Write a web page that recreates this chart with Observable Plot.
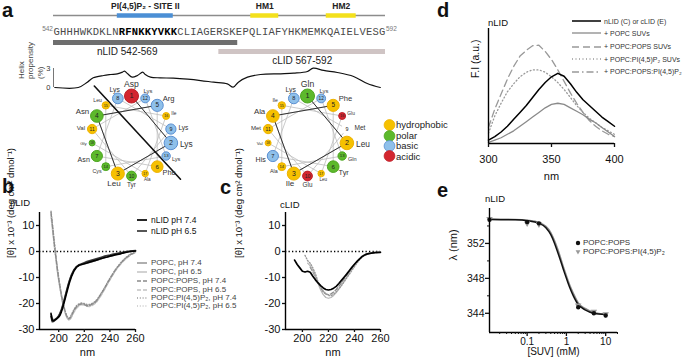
<!DOCTYPE html>
<html>
<head>
<meta charset="utf-8">
<script src="https://cdn.jsdelivr.net/npm/d3@7"></script>
<script src="https://cdn.jsdelivr.net/npm/@observablehq/plot@0.6"></script>
<style>
html,body{margin:0;padding:0;background:#fff;}
#fig{position:relative;width:683px;height:363px;overflow:hidden;background:#fff;font-family:"Liberation Sans",Arial,sans-serif;color:#111;}
#fig > *{position:absolute;}
.lbl{white-space:nowrap;line-height:1;}
.row{display:flex;align-items:center;white-space:nowrap;line-height:1;}
.row svg{overflow:visible;flex:none;display:block;}
</style>
</head>
<body>
<div id="fig"></div>
<script>
// ================= DATA =================
// panel a : sequence track
const seqStart = 542;
const sequence = "GHHHWKDKLNRFNKKYVKKCLIAGERSKEPQLIAFYHKMEMKQAIELVESG";
const siteIIResidues = [552, 560];
const domainNames = ["PI(4,5)P₂ - SITE II", "HM1", "HM2"];
const domainStart = [551.8, 572.3, 583.9];
const domainEnd = [560.4, 576.6, 588.5];
const constructNames = ["nLID 542-569", "cLID 567-592"];
const constructStart = [542, 567.4];
const constructEnd = [570.3, 593];
// panel a : helix propensity
const propensityResidue = [542.2,545.8,547.2,548.1,549.7,550.8,551.8,552.6,552.9,553.4,554.1,554.9,555.7,556.1,556.9,558.4,560.4,562.6,564.6,566.6,568.7,569.6,570.4,571.8,573.8,576.9,578.9,581.0,581.9,583.5,585.6,588.1,590.2,592.2];
const propensityValue = [0,0,0.84,1.53,1.9,2.05,2.16,2.42,2.58,2.16,1.63,1.9,2.42,2.05,1.63,1.53,1.47,1.31,1.1,0.84,0.58,0.05,0.84,1.63,2.05,2.16,2.26,2.53,3.05,2.69,2.37,1.74,0.63,0];
const propensityTicks = [0, 3];
const propensityLabel = "Helix\npropensity\n(%)";
// panel a : helical wheels
const wheelTypes = ["hydrophobic", "polar", "basic", "acidic"];
const nWheelNames = ["Asp","Lys","Leu","Asn","Arg","Phe","Asn","Lys","Lys","Tyr","Val","Lys","Lys","Cys","Leu","Ile","Ala","Gly"];
const nWheelTypes = ["acidic","basic","hydrophobic","polar","basic","hydrophobic","polar","basic","basic","polar","hydrophobic","basic","basic","polar","hydrophobic","hydrophobic","hydrophobic","polar"];
const cWheelNames = ["Gln","Leu","Ile","Ala","Phe","Tyr","His","Lys","Met","Glu","Met","Lys","Gln","Ala","Ile","Glu","Leu","Val"];
const cWheelTypes = ["polar","hydrophobic","hydrophobic","hydrophobic","hydrophobic","polar","basic","basic","none","acidic","hydrophobic","basic","polar","hydrophobic","hydrophobic","acidic","hydrophobic","hydrophobic"];
const nWheelDivider = [[-0.93, -1.25], [1.225, 1.08]]; // in wheel radii

// panel b : CD nLID
const bSeriesNames = ["nLID pH 7.4","nLID pH 6.5","POPC, pH 7.4","POPC, pH 6.5","POPC:POPS, pH 7.4","POPC:POPS, pH 6.5","POPC:PI(4,5)P₂, pH 7.4","POPC:PI(4,5)P₂, pH 6.5"];
const bWavelength = [194,195,196,197,198,199,200,201,202,203,204,205,206,207,208,209,210,212,214,216,218,220,222,224,226,228,230,232,234,236,238,240,242,244,246,248,250,253,256,260];
const bNLID74 = [-24,-26.5,-26.6,-26.3,-26,-25.6,-25.2,-24.5,-23.3,-21.8,-20,-18.2,-16.3,-14.4,-12.6,-11,-9.6,-7.4,-6,-5.3,-5,-4.7,-4.4,-4.1,-3.8,-3.5,-3.2,-2.9,-2.6,-2.3,-2.1,-1.8,-1.6,-1.3,-1.1,-0.9,-0.6,-0.3,0,0.2];
const bNLID65 = [-25,-27,-26.9,-26.5,-26.1,-25.5,-24.8,-23.8,-22.5,-21,-19.2,-17.3,-15.4,-13.5,-11.8,-10.3,-9,-7,-5.8,-5.1,-4.7,-4.3,-3.9,-3.6,-3.3,-3,-2.7,-2.4,-2.1,-1.8,-1.6,-1.4,-1.1,-0.9,-0.7,-0.5,-0.3,0,0.2,0.3];
const bPOPC74 = [-23.5,-25.8,-26.2,-26,-25.7,-25.2,-24.6,-23.7,-22.4,-20.9,-19.1,-17.2,-15.3,-13.4,-11.7,-10.2,-8.9,-6.9,-5.7,-5.1,-4.9,-4.7,-4.5,-4.2,-3.9,-3.6,-3.3,-3,-2.7,-2.4,-2.1,-1.8,-1.5,-1.2,-1,-0.8,-0.5,-0.2,0.1,0.3];
const bPOPC65 = [-24.5,-26,-26.4,-26.2,-25.9,-25.4,-24.9,-24.1,-22.9,-21.4,-19.7,-17.8,-15.9,-14,-12.2,-10.6,-9.3,-7.2,-5.9,-5.4,-5.1,-4.9,-4.6,-4.3,-4,-3.7,-3.4,-3.1,-2.8,-2.5,-2.2,-1.9,-1.6,-1.3,-1.1,-0.9,-0.6,-0.3,0,0.1];
const bPOPS74 = [15,10.5,5.5,1,-3,-7,-10.5,-13.5,-16.5,-19,-21.2,-23,-24.6,-25.6,-26,-25.6,-24.7,-22.6,-21.2,-20.4,-20.1,-20.4,-20.9,-20.8,-20.3,-19.8,-18.7,-17.2,-15.6,-14,-12.2,-10.5,-8.9,-7.3,-6,-4.8,-3.7,-2.3,-1.2,-0.3];
const bPOPS65 = [14,9.5,4.5,0,-4,-8,-11.5,-14.5,-17.3,-19.8,-21.9,-23.6,-25,-25.9,-26.2,-25.9,-25.2,-23.3,-21.8,-20.8,-20.4,-20.6,-21.1,-21.2,-20.8,-20.2,-19.2,-17.8,-16.2,-14.5,-12.7,-11,-9.3,-7.7,-6.3,-5.1,-4,-2.6,-1.4,-0.4];
const bPIP74 = [15.5,11,6.5,2,-2.5,-6.5,-10,-13.2,-16.2,-18.8,-21,-22.9,-24.4,-25.3,-25.6,-25.2,-24.2,-22.2,-20.8,-20.1,-19.8,-20,-20.4,-20.4,-20,-19.4,-18.4,-17,-15.4,-13.8,-12,-10.3,-8.7,-7.2,-5.8,-4.6,-3.5,-2.1,-1,-0.1];
const bPIP65 = [13,9,4.8,0.5,-3.5,-7.5,-11,-14,-16.8,-19.4,-21.6,-23.4,-24.9,-25.9,-26.4,-26.1,-25.3,-23,-21.5,-20.6,-20.3,-20.5,-20.9,-21,-20.6,-20,-19,-17.6,-16,-14.3,-12.5,-10.8,-9.1,-7.6,-6.2,-5,-3.9,-2.5,-1.3,-0.3];
const cdTicksX = [200, 220, 240, 260];
const cdTicksY = [-30, -20, -10, 0, 10];
const cdYLabel = "[θ] x 10⁻³ (deg cm² dmol⁻¹)";

// panel c : CD cLID
const cSeriesNames = ["cLID pH 7.4", "POPC:PI(4,5)P₂, pH 7.4", "POPC, pH 6.5", "POPC:POPS, pH 7.4"];
const cWavelength = [194,196,198,200,202,204,206,208,210,212,214,216,218,220,222,224,226,228,230,232,234,236,238,240,242,244,246,248,250,253,256,260];
const cLIDsol = [-3.3,-5,-6.3,-7.6,-7.9,-7.6,-8,-9.5,-10.9,-12.1,-13.1,-14,-14.6,-14.8,-14.6,-14.1,-13.4,-12.3,-11.1,-9.9,-8.7,-7.4,-6.1,-4.9,-3.8,-2.8,-1.9,-1.3,-0.9,-0.6,-0.4,-0.3];
const cLIDmem1 = [null,null,null,null,-1.5,-3.5,-4.5,-6.3,-8.6,-11.6,-13.8,-15.2,-16.2,-16.9,-17,-16.4,-15.4,-14.3,-13.1,-11.7,-10.2,-8.8,-7.3,-5.8,-4.4,-3.1,-2.1,-1.4,-1,-0.6,-0.4,-0.3];
const cLIDmem2 = [null,null,null,null,null,-4.5,-5.5,-7.2,-9.5,-12.3,-14.8,-16.6,-17.7,-18,-17.7,-16.9,-15.8,-14.5,-13,-11.4,-9.8,-8.2,-6.6,-5.1,-3.8,-2.7,-1.8,-1.2,-0.8,-0.5,-0.3,-0.2];
const cLIDmem3 = [null,null,null,null,null,null,-6,-7.8,-9.8,-12,-14,-15.5,-16.4,-16.6,-16.3,-15.6,-14.6,-13.4,-12,-10.6,-9.2,-7.8,-6.4,-5,-3.8,-2.7,-1.8,-1.2,-0.8,-0.5,-0.3,-0.2];

// panel d : fluorescence
const dSeriesNames = ["nLID (C) or cLID (E)", "+ POPC SUVs", "+ POPC:POPS SUVs", "+ POPC:PI(4,5)P₂ SUVs", "+ POPC:POPS:PI(4,5)P₂"];
const dWavelength = [300,305,310,315,320,325,330,335,340,345,350,355,360,365,370,375,380,385,390,395,400];
const dFree = [3,6,10,15,21,27,33,40,47,53,58,61,58.5,52,44.5,38,33,28,23,19,15];
const dPOPC = [1,3,5,8,11,15,19,23,27,31,34,35,34,31,28,25,21,18,14,10,6];
const dPOPS = [14,30,43,56,67,76,81,85,85.5,80,73,64,54,44,35,27,20,15,11,8,6];
const dPIP2 = [9,24,35,45,52,58,62,64,64,62,58,53,47,40,33,27,22,18,14,11,8];
const dTicksX = [300, 350, 400];

// panel e : titration
const eSeriesNames = ["POPC:POPS", "POPC:POPS:PI(4,5)P₂"];
const eConc = [0.011, 0.1, 0.2, 2, 5, 10];
const eLambdaPOPS = [354.7, 354.45, 354.3, 344.7, 344.0, 343.75];
const eLambdaPIP2 = [354.8, 354.3, 354.2, 344.9, 344.2, 343.9];
const eFitConc = [0.011,0.05,0.1,0.2,0.3,0.4,0.5,0.6,0.7,0.8,0.9,1.0,1.2,1.5,2,3,5,10];
const eFitPOPS = [354.75,354.7,354.6,354.3,353.8,353.0,352.0,351.0,350.1,349.3,348.6,348.0,347.0,346.0,345.0,344.4,344.0,343.85];
const eFitPIP2 = [354.8,354.75,354.65,354.4,353.95,353.25,352.3,351.35,350.45,349.6,348.9,348.3,347.3,346.3,345.2,344.55,344.1,343.9];
const eTicksX = [0.1, 1, 10];
const eTicksY = [344, 348, 352];
const eMinorY = [346, 350, 354];

// ================= HELPERS =================
const fig = document.getElementById("fig");
const FONT = "'Liberation Sans', Arial, sans-serif";
const plotStyle = {background: "transparent", overflow: "visible", fontFamily: FONT, color: "#111"};
function put(node, left, top) {
  node.style.position = "absolute";
  node.style.left = left + "px";
  node.style.top = top + "px";
  fig.appendChild(node);
  return node;
}
function addText(text, left, cy, fs, extra = {}) {
  const d = document.createElement("div");
  d.className = "lbl";
  d.textContent = text;
  d.style.left = left + "px";
  d.style.top = (cy - fs / 2) + "px";
  d.style.fontSize = fs + "px";
  Object.assign(d.style, extra);
  fig.appendChild(d);
  return d;
}
function addRow(left, cy, swatchSvg, text, fs, color, gap) {
  const d = document.createElement("div");
  d.className = "row";
  d.style.left = left + "px";
  d.style.top = (cy - 5) + "px";
  d.style.height = "10px";
  d.style.fontSize = fs + "px";
  d.style.color = color;
  d.innerHTML = swatchSvg;
  const s = document.createElement("span");
  s.style.marginLeft = gap + "px";
  s.textContent = text;
  d.appendChild(s);
  fig.appendChild(d);
}
function lineSwatch(w, st) {
  return `<svg width="${w}" height="10"><line x1="0" x2="${w}" y1="5" y2="5" stroke="${st.stroke}" stroke-width="${st.strokeWidth}" ${st.strokeDasharray ? `stroke-dasharray="${st.strokeDasharray}"` : ""}/></svg>`;
}

// ================= PANEL a : track =================
const residues = Array.from(sequence, (aa, k) => ({pos: seqStart + k, aa}));
const isBold = d => d.pos >= siteIIResidues[0] && d.pos <= siteIIResidues[1];
const seqEnd = seqStart + sequence.length;
const domains = domainNames.map((name, k) => ({name, start: domainStart[k], end: domainEnd[k]}));
const constructs = constructNames.map((name, k) => ({name, start: constructStart[k], end: constructEnd[k]}));
const trackRows = ["title", "domain", "gap", "seq", "nbar", "nlab", "clab"];
const domainColor = {"PI(4,5)P₂ - SITE II": "#4b8fd5", "HM1": "#f3e01c", "HM2": "#f3e01c"};
const constructStyle = {
  "nLID 542-569": {bar: "nbar", label: "nlab", color: "#6e6e6e", at: 0.4},
  "cLID 567-592": {bar: "nlab", label: "clab", color: "#cfc4c4", at: 0.5}
};
const monoText = {y: () => "seq", x: d => d.pos + 0.5, text: "aa", fontFamily: "'Liberation Mono', 'DejaVu Sans Mono', monospace", fontSize: 10.5, dy: -1.5};
put(Plot.plot({
  width: 400, height: 66, marginLeft: 53, marginRight: 15, marginTop: 0, marginBottom: 0,
  x: {domain: [seqStart, seqEnd], axis: null},
  y: {type: "point", domain: trackRows, range: [5, 61], padding: 0, axis: null},
  color: {type: "identity"},
  style: plotStyle,
  marks: [
    Plot.ruleY(["domain"], {y: d => d, x1: seqStart, x2: seqEnd, stroke: "#8c8c8c", strokeWidth: 1.6}),
    Plot.ruleY(domains, {y: () => "domain", x1: "start", x2: "end", stroke: d => domainColor[d.name], strokeWidth: 4.5}),
    Plot.text(domains, {y: () => "title", x: d => (d.start + d.end) / 2, text: "name", fontWeight: "bold", fontSize: 8.5, fill: "#222"}),
    Plot.text(residues.filter(d => !isBold(d)), {...monoText, fill: "#4a4a4a"}),
    Plot.text(residues.filter(isBold), {...monoText, fill: "#000", fontWeight: "bold"}),
    Plot.text([seqStart], {y: () => "seq", x: d => d, text: d => String(d), textAnchor: "end", fontSize: 6.5, dy: -5, dx: -0.5, fill: "#777"}),
    Plot.text([seqEnd - 1], {y: () => "seq", x: d => d + 1, text: d => String(d), textAnchor: "start", fontSize: 6.5, dy: -5, dx: 0.5, fill: "#777"}),
    Plot.ruleY(constructs, {y: d => constructStyle[d.name].bar, x1: "start", x2: "end", stroke: d => constructStyle[d.name].color, strokeWidth: 5}),
    Plot.text(constructs, {y: d => constructStyle[d.name].label, x: d => d.start + (d.end - d.start) * constructStyle[d.name].at, text: "name", fontSize: 10, fill: "#222"})
  ]
}), 0, 0);

// ================= PANEL a : helix propensity =================
const propensity = propensityResidue.map((r, k) => ({r, v: propensityValue[k]}));
put(Plot.plot({
  width: 400, height: 30, marginLeft: 53, marginRight: 15, marginTop: 6, marginBottom: 5,
  x: {domain: [seqStart, seqEnd], axis: null},
  y: {domain: [0, 3], axis: null},
  style: plotStyle,
  marks: [
    Plot.ruleX([seqStart], {y1: propensityTicks[0], y2: propensityTicks[1], stroke: "#777", strokeWidth: 1}),
    Plot.text(propensityTicks, {x: () => seqStart, y: d => d, text: d => String(d), textAnchor: "end", dx: -3, fontSize: 7.5, fill: "#333"}),
    Plot.line(propensity, {x: "r", y: "v", stroke: "#111", strokeWidth: 1.2, curve: "catmull-rom"}),
    Plot.text([propensityLabel], {frameAnchor: "left", rotate: -90, dx: -23, dy: 1, lineHeight: 1.15, fontSize: 8, fill: "#444"})
  ]
}), 0, 62);

// ================= PANEL a : helical wheels =================
const wheelFill = {hydrophobic: "#f6c100", polar: "#5db92c", basic: "#8fc0ea", acidic: "#d3262f", none: "#ffffff"};
const wheelStroke = {hydrophobic: "#eeb200", polar: "#4ca61f", basic: "#5a8fd2", acidic: "#bd1f28", none: "#ffffff"};
const PX = 40;
const rOf = d3.scaleLinear().domain([1, 18]).range([7, 3]);
function wheel(names, types, divider) {
  const res = names.map((name, k) => {
    const a = (-90 + 100 * k) * Math.PI / 180;
    return {i: k + 1, name, type: types[k], ux: Math.cos(a), uy: Math.sin(a)};
  });
  const lab = res.map(d => {
    const rad = rOf(d.i);
    const fs = 8.6 - 0.25 * (d.i - 1);
    const anchor = d.ux > 0.35 ? "start" : d.ux < -0.35 ? "end" : "middle";
    const gap = anchor === "middle" ? rad + 1 + fs * 0.42 : rad + 2.5;
    const R = 1 + gap / PX;
    return {...d, fs, anchor, lx: d.ux * R, ly: d.uy * R};
  });
  const marks = [
    Plot.line(res, {x: "ux", y: "uy", stroke: "#bdbdbd", strokeWidth: 0.8}),
    Plot.line(res.slice(0, 5), {x: "ux", y: "uy", stroke: "#333", strokeWidth: 1})
  ];
  if (divider) marks.push(Plot.line(divider, {x: d => d[0], y: d => d[1], stroke: "#111", strokeWidth: 1.6}));
  marks.push(
    Plot.dot(res, {x: "ux", y: "uy", r: "i", fill: d => wheelFill[d.type], stroke: d => wheelStroke[d.type], strokeWidth: 1}),
    Plot.text(res, {x: "ux", y: "uy", text: d => String(d.i), fontSize: d => rOf(d.i) * 1.05, fill: "#222"}),
    ...["start", "middle", "end"].map(an => Plot.text(lab.filter(d => d.anchor === an), {x: "lx", y: "ly", text: "name", textAnchor: an, fontSize: d => d.fs, fill: "#333"}))
  );
  return Plot.plot({
    width: 150, height: 122, marginLeft: 0, marginRight: 0, marginTop: 0, marginBottom: 0,
    x: {domain: [-75 / PX, 75 / PX], axis: null},
    y: {domain: [-60.5 / PX, 61.5 / PX], reverse: true, axis: null},
    r: {type: "linear", domain: [1, 18], range: [7, 3]},
    color: {type: "identity"},
    style: plotStyle,
    marks
  });
}
put(wheel(nWheelNames, nWheelTypes, nWheelDivider), 56, 75);
put(wheel(cWheelNames, cWheelTypes, null), 231.5, 75);
// wheel legend
const legendCy = [125, 135.5, 146, 156.3];
wheelTypes.forEach((t, k) => {
  addRow(384, legendCy[k], `<svg width="11" height="10"><circle cx="5.5" cy="5" r="5.4" fill="${wheelFill[t]}" stroke="${wheelStroke[t]}" stroke-width="0.8"/></svg>`, t, 9.5, "#222", 1);
});

// ================= PANELS b & c : CD =================
const cdStyle = {
  "nLID pH 7.4": {stroke: "#000", strokeWidth: 1.7},
  "nLID pH 6.5": {stroke: "#383838", strokeWidth: 1.7},
  "cLID pH 7.4": {stroke: "#000", strokeWidth: 1.7},
  "POPC, pH 7.4": {stroke: "#7a7a7a", strokeWidth: 1.2},
  "POPC, pH 6.5": {stroke: "#b5b5b5", strokeWidth: 1.2},
  "POPC:POPS, pH 7.4": {stroke: "#8a8a8a", strokeWidth: 1.3, strokeDasharray: "4,2"},
  "POPC:POPS, pH 6.5": {stroke: "#c2c2c2", strokeWidth: 1.3, strokeDasharray: "4,2"},
  "POPC:PI(4,5)P₂, pH 7.4": {stroke: "#999", strokeWidth: 1.4, strokeDasharray: "1,1.8"},
  "POPC:PI(4,5)P₂, pH 6.5": {stroke: "#c8c8c8", strokeWidth: 1.4, strokeDasharray: "1,1.8"}
};
function cdPlot(xs, names, arrays, domainX, mLeft, width, yLabelDx) {
  const lines = names.map((n, k) => ({n, pts: xs.map((x, j) => ({x, y: arrays[k][j]}))}));
  const order = lines.slice().reverse();
  return Plot.plot({
    width, height: 167, marginLeft: mLeft, marginRight: 5, marginTop: 16, marginBottom: 34,
    x: {domain: domainX},
    y: {domain: [-30, 15]},
    style: plotStyle,
    marks: [
      Plot.ruleY([0], {stroke: "#000", strokeWidth: 1.3, strokeDasharray: "1.3,2.2"}),
      ...order.map(l => Plot.line(l.pts, {x: "x", y: "y", ...cdStyle[l.n]})),
      Plot.ruleX([domainX[0]], {stroke: "#000", strokeWidth: 1.4}),
      Plot.ruleY([-30], {stroke: "#000", strokeWidth: 1.4}),
      Plot.axisX({ticks: cdTicksX, tickSize: 3, tickPadding: 2, fontSize: 11, label: null, strokeWidth: 1.3}),
      Plot.axisY({ticks: cdTicksY, tickSize: 3, tickPadding: 2, fontSize: 11, label: null, strokeWidth: 1.3, tickFormat: d => String(d)}),
      Plot.text(["nm"], {frameAnchor: "bottom", dy: 26, fontSize: 11}),
      Plot.text([cdYLabel], {frameAnchor: "left", rotate: -90, dx: yLabelDx, dy: -13, fontSize: 9.5})
    ]
  });
}
put(cdPlot(bWavelength, bSeriesNames, [bNLID74, bNLID65, bPOPC74, bPOPC65, bPOPS74, bPOPS65, bPIP74, bPIP65], [185, 260], 39, 140, -29), 0, 196);
put(cdPlot(cWavelength, cSeriesNames, [cLIDsol, cLIDmem1, cLIDmem2, cLIDmem3], [187, 260], 55, 155, -47), 230, 196);
// legend b
const bLegendCy = [220, 231, 263, 271.5, 280.5, 289.5, 297.5, 305.5];
bSeriesNames.forEach((n, k) => {
  addRow(137, bLegendCy[k], lineSwatch(10, cdStyle[n]), n, k < 2 ? 8.5 : 8, k < 2 ? "#111" : "#444", 4);
});

// ================= PANEL d =================
const dStyle = {
  "nLID (C) or cLID (E)": {stroke: "#000", strokeWidth: 1.5},
  "+ POPC SUVs": {stroke: "#8a8a8a", strokeWidth: 1.3},
  "+ POPC:POPS SUVs": {stroke: "#999", strokeWidth: 1.3, strokeDasharray: "7,4"},
  "+ POPC:PI(4,5)P₂ SUVs": {stroke: "#999", strokeWidth: 1.3, strokeDasharray: "1,2.5"},
  "+ POPC:POPS:PI(4,5)P₂": {stroke: "#999", strokeWidth: 1.3, strokeDasharray: "7,3,1.5,3"}
};
const dArrays = [dFree, dPOPC, dPOPS, dPIP2];
put(Plot.plot({
  width: 183, height: 190, marginLeft: 48, marginRight: 9, marginTop: 28, marginBottom: 47,
  x: {domain: [300, 400]},
  y: {domain: [0, 100], axis: null},
  style: plotStyle,
  marks: [
    ...dArrays.map((arr, k) => ({n: dSeriesNames[k], pts: dWavelength.map((x, j) => ({x, y: arr[j]}))})).reverse()
      .map(l => Plot.line(l.pts, {x: "x", y: "y", ...dStyle[l.n]})),
    Plot.ruleX([300], {stroke: "#000", strokeWidth: 1.4}),
    Plot.ruleY([0], {stroke: "#000", strokeWidth: 1.4}),
    Plot.axisX({ticks: dTicksX, tickSize: 4, tickPadding: 8, fontSize: 11, label: null, strokeWidth: 1.3}),
    Plot.text(["nm"], {frameAnchor: "bottom", dy: 36, fontSize: 11}),
    Plot.text(["F.I (a.u.)"], {frameAnchor: "left", rotate: -90, dx: -13, dy: -8, fontSize: 10.5})
  ]
}), 440, 0);
const dLegendCy = [21, 33.3, 46.7, 59.3, 71.7];
dSeriesNames.forEach((n, k) => addRow(572, dLegendCy[k], lineSwatch(29, dStyle[n]), n, 7, "#333", 3));

// ================= PANEL e =================
const eLog = d3.scaleLog().domain([0.011, 20]);
const eMinorX = eLog.ticks().filter(t => !eTicksX.includes(t));
const eFit = [
  {n: eSeriesNames[1], stroke: "#8a8a8a", pts: eFitConc.map((x, j) => ({x, y: eFitPIP2[j]}))},
  {n: eSeriesNames[0], stroke: "#111", pts: eFitConc.map((x, j) => ({x, y: eFitPOPS[j]}))}
];
put(Plot.plot({
  width: 183, height: 173, marginLeft: 49, marginRight: 6, marginTop: 18, marginBottom: 31,
  x: {type: "log", domain: [0.011, 20]},
  y: {domain: [341.8, 356]},
  style: plotStyle,
  marks: [
    ...eFit.map(f => Plot.line(f.pts, {x: "x", y: "y", stroke: f.stroke, strokeWidth: 1.5, curve: "monotone-x"})),
    Plot.dot(eConc.map((x, j) => ({x, y: eLambdaPIP2[j]})), {x: "x", y: "y", symbol: "triangle", rotate: 180, r: 2.4, fill: "#999", stroke: "none"}),
    Plot.dot(eConc.map((x, j) => ({x, y: eLambdaPOPS[j]})), {x: "x", y: "y", r: 2.2, fill: "#111", stroke: "none"}),
    Plot.ruleX([0.011], {stroke: "#000", strokeWidth: 1.4}),
    Plot.ruleY([341.8], {stroke: "#000", strokeWidth: 1.4}),
    Plot.axisX({ticks: eTicksX, tickSize: 4, tickPadding: 1, fontSize: 10, label: null, strokeWidth: 1.3, tickFormat: d => String(d)}),
    Plot.axisX({ticks: eMinorX, tickSize: 2, label: null, strokeWidth: 1, tickFormat: () => ""}),
    Plot.axisY({ticks: eTicksY, tickSize: 4, tickPadding: 1, fontSize: 10.5, label: null, strokeWidth: 1.3, tickFormat: d => String(d)}),
    Plot.axisY({ticks: eMinorY, tickSize: 2, label: null, strokeWidth: 1, tickFormat: () => ""}),
    Plot.text(["[SUV] (mM)"], {frameAnchor: "bottom", dy: 22, fontSize: 10}),
    Plot.text(["λ (nm)"], {frameAnchor: "left", rotate: -90, dx: -36, dy: -10, fontSize: 11})
  ]
}), 440, 190);
addRow(574.5, 243.3, `<svg width="6" height="10"><circle cx="3" cy="5" r="2.2" fill="#111"/></svg>`, eSeriesNames[0], 8, "#333", 2.5);
addRow(574.5, 252, `<svg width="6" height="10"><path d="M0.6,3.2 L5.4,3.2 L3,7.4 Z" fill="#999"/></svg>`, eSeriesNames[1], 8, "#333", 2.5);

// ================= titles & panel letters =================
addText("a", 2, 9.5, 20, {fontWeight: "bold"});
addText("b", 2, 186, 20, {fontWeight: "bold"});
addText("c", 220, 187, 20, {fontWeight: "bold"});
addText("d", 437, 10, 20, {fontWeight: "bold"});
addText("e", 437, 190, 20, {fontWeight: "bold"});
addText("nLID", 10, 203, 9.5);
addText("cLID", 280, 205, 9.5);
addText("nLID", 488, 23, 9.5);
addText("nLID", 485, 198.5, 9.5);
</script>
</body>
</html>
